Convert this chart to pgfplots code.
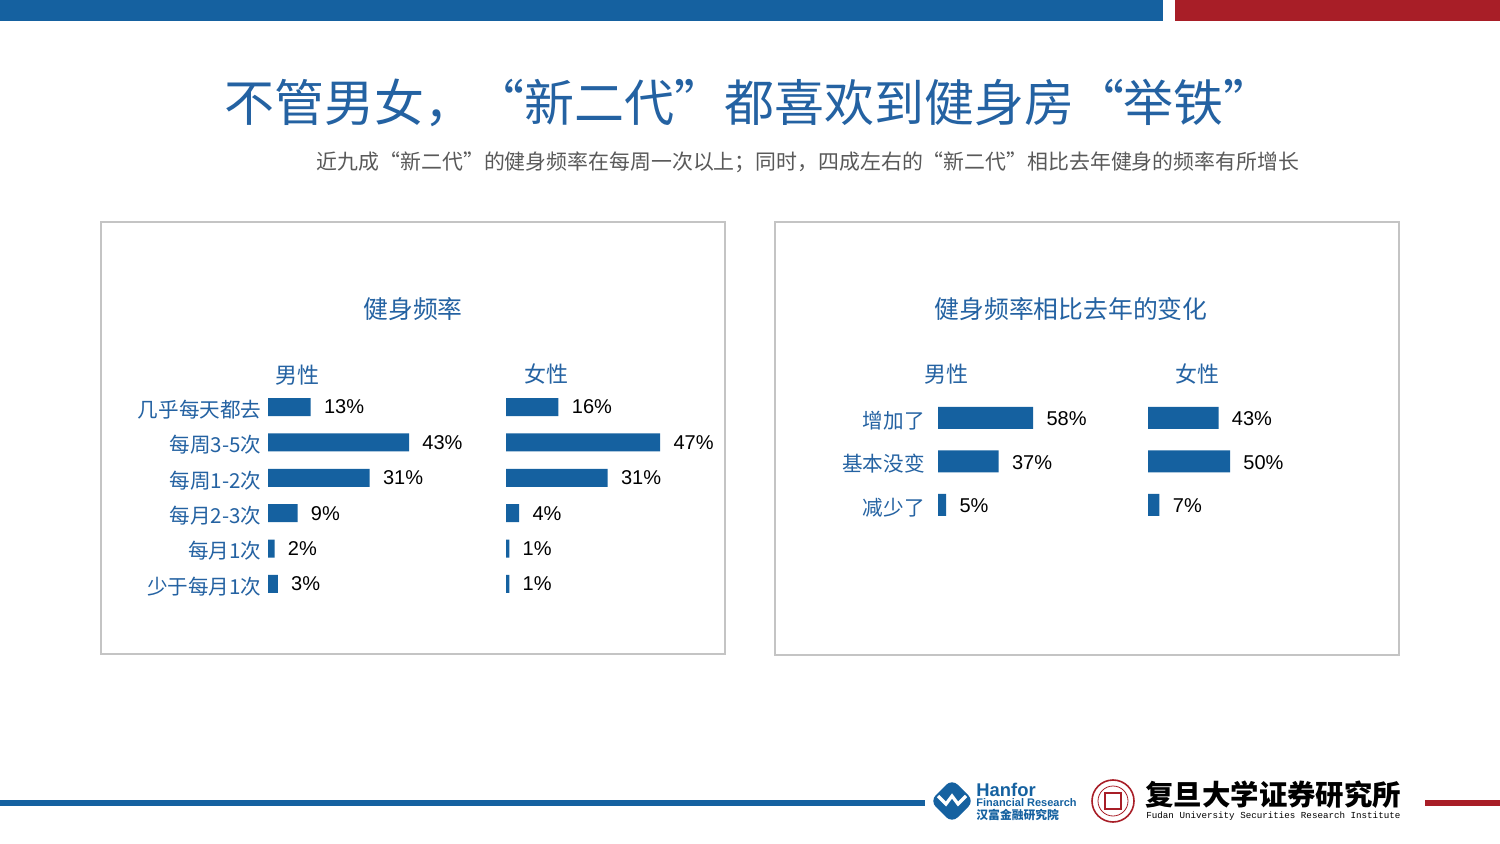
\documentclass[border=0pt]{standalone}
\usepackage{pgfplots}
\pgfplotsset{compat=1.18}
\usepackage{fontspec}
\setmainfont{Liberation Sans}
\newfontfamily\cjk{Noto Sans CJK SC}
\newfontfamily\mono{Liberation Mono}

\definecolor{barblue}{HTML}{1561A0}
\definecolor{txtblue}{HTML}{2462A2}
\definecolor{topred}{HTML}{A81E27}
\definecolor{boxgray}{HTML}{C4C4C4}
\definecolor{subgray}{HTML}{595959}

\pgfplotsset{
  hbars/.style={
    xbar, scale only axis, xmin=0, y dir=reverse,
    axis line style={draw=none}, tick style={draw=none}, major tick length=0pt,
    xtick=\empty, ytick=\empty, clip=false,
    bar shift=0pt,
    point meta=x,
    /pgf/number format/assume math mode=true,
    nodes near coords={\pgfmathprintnumber{\pgfplotspointmeta}\%},
    nodes near coords style={font=\fontsize{10}{12}\selectfont, text=black,
      anchor=west, inner sep=0pt, xshift=6.5pt},
    yticklabel style={font=\cjk\fontsize{10.3}{12}\selectfont, text=txtblue,
      anchor=east, inner sep=0pt, xshift=-3pt, yshift=-1.2pt},
  },
  freq/.style={hbars, xmax=50, width=82pt, height=106.2pt,
    ymin=-0.5, ymax=5.5, bar width=9pt},
  change/.style={hbars, xmax=60, width=49.2pt, height=65.25pt,
    ymin=-0.5, ymax=2.5, bar width=11pt,
    nodes near coords style={yshift=-0.5pt},
    yticklabel style={xshift=-3.5pt}},
}

\begin{document}
\begin{tikzpicture}
\path[use as bounding box, fill=white] (0pt,0pt) rectangle (750pt,-422pt);

\begin{scope}[x=0.5pt, y=-0.5pt]
  % top and bottom rules
  \fill[barblue] (0,0) rectangle (1163,21);
  \fill[topred] (1175,0) rectangle (1500,21);
  \fill[barblue] (0,800) rectangle (925,806);
  \fill[topred] (1425,800) rectangle (1500,806);

  % headings
  \node[text=txtblue, font=\cjk\fontsize{25}{29}\selectfont] at (749,103)
    {不管男女，“新二代”都喜欢到健身房“举铁”};
  \node[text=subgray, font=\cjk\fontsize{10.45}{12}\selectfont] at (808,162)
    {近九成“新二代”的健身频率在每周一次以上；同时，四成左右的“新二代”相比去年健身的频率有所增长};

  % panels
  \draw[boxgray, line width=0.6pt] (101,222) rectangle (725,654);
  \draw[boxgray, line width=0.6pt] (775,222) rectangle (1399,655);

  \node[text=txtblue, font=\cjk\fontsize{12.4}{14}\selectfont] at (413,309) {健身频率};
  \node[text=txtblue, font=\cjk\fontsize{11}{13}\selectfont] at (297,375) {男性};
  \node[text=txtblue, font=\cjk\fontsize{11}{13}\selectfont] at (546,374) {女性};

  \node[text=txtblue, font=\cjk\fontsize{12.4}{14}\selectfont] at (1071,309) {健身频率相比去年的变化};
  \node[text=txtblue, font=\cjk\fontsize{11}{13}\selectfont] at (946,374) {男性};
  \node[text=txtblue, font=\cjk\fontsize{11}{13}\selectfont] at (1197,374) {女性};

  % Hanfor logo
  \fill[barblue, rounded corners=4] (952,779) -- (974,801) -- (952,823) -- (930,801) -- cycle;
  \draw[white, line width=1.6pt] (938,796) -- (946,804) -- (952,796) -- (958,804) -- (966,796);
  \node[anchor=west, inner sep=0pt, text=barblue, font=\bfseries\fontsize{9.2}{10}\selectfont] at (976,790) {Hanfor};
  \node[anchor=west, inner sep=0pt, text=barblue, font=\bfseries\fontsize{5.5}{6}\selectfont] at (976,803) {Financial Research};
  \node[anchor=west, inner sep=0pt, text=barblue, font=\cjk\bfseries\fontsize{5.9}{6}\selectfont] at (976,815) {汉富金融研究院};

  % Fudan logo
  \draw[topred, line width=0.8pt] (1113,801) circle (21);
  \draw[topred, line width=0.4pt] (1113,801) circle (15);
  \draw[topred, line width=0.6pt] (1105,793) rectangle (1121,809);
  \node[anchor=west, inner sep=0pt, text=black, font=\cjk\bfseries\fontsize{14.2}{16}\selectfont] at (1145,795) {复旦大学证券研究所};
  \node[anchor=west, inner sep=0pt, text=black, font=\mono\fontsize{4.6}{5}\selectfont] at (1146,816) {Fudan University Securities Research Institute};
\end{scope}

% 健身频率 - 男性
\begin{axis}[freq, at={(134pt,-194.65pt)}, anchor=north west,
  ytick={0,...,5},
  yticklabels={几乎每天都去,每周3-5次,每周1-2次,每月2-3次,每月1次,少于每月1次}]
\addplot[fill=barblue, draw=none] coordinates {(13,0) (43,1) (31,2) (9,3) (2,4) (3,5)};
\end{axis}

% 健身频率 - 女性
\begin{axis}[freq, at={(253pt,-194.65pt)}, anchor=north west]
\addplot[fill=barblue, draw=none] coordinates {(16,0) (47,1) (31,2) (4,3) (1,4) (1,5)};
\end{axis}

% 变化 - 男性
\begin{axis}[change, at={(469pt,-198.125pt)}, anchor=north west,
  ytick={0,1,2},
  yticklabels={增加了,基本没变,减少了}]
\addplot[fill=barblue, draw=none] coordinates {(58,0) (37,1) (5,2)};
\end{axis}

% 变化 - 女性
\begin{axis}[change, at={(574pt,-198.125pt)}, anchor=north west]
\addplot[fill=barblue, draw=none] coordinates {(43,0) (50,1) (7,2)};
\end{axis}
\end{tikzpicture}
\end{document}
